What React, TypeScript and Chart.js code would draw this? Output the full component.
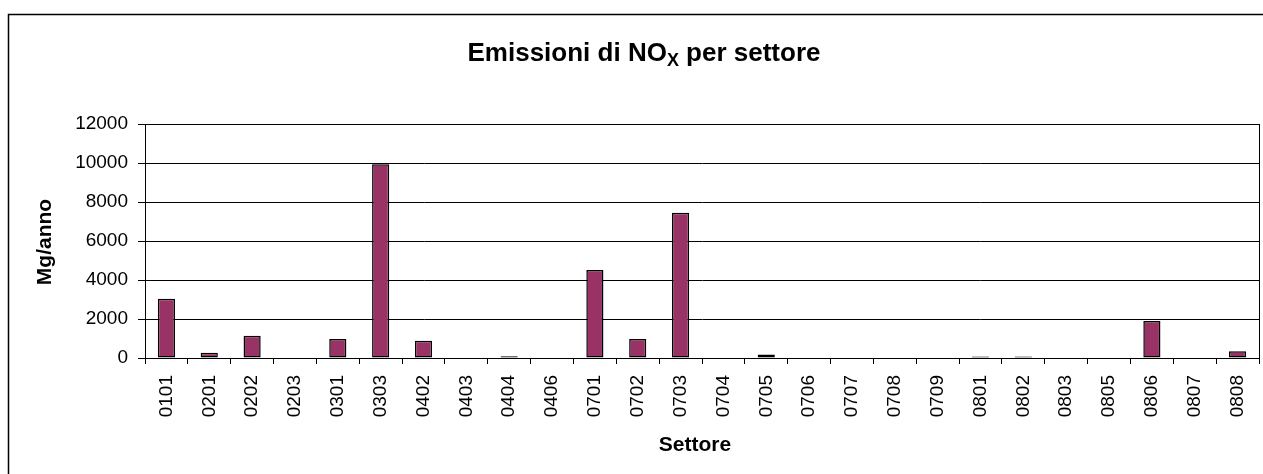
import React, { useEffect, useRef } from "react";
import { Chart, registerables } from "chart.js";

Chart.register(...registerables);

const categories = ["0101","0201","0202","0203","0301","0303","0402","0403","0404","0406","0701","0702","0703","0704","0705","0706","0707","0708","0709","0801","0802","0803","0805","0806","0807","0808"];
const emissions = [3040,270,1140,0,975,9930,890,0,90,0,4510,975,7450,0,180,0,0,0,0,80,80,0,0,1900,0,340];
const yTicks = [0,2000,4000,6000,8000,10000,12000];

const titleMain = "Emissioni di NO";
const titleSub = "X";
const titleRest = " per settore";
const yTitle = "Mg/anno";
const xTitle = "Settore";

const FONT = "'Liberation Sans', Arial, sans-serif";

export default function App() {
  const ref = useRef<HTMLCanvasElement | null>(null);
  useEffect(() => {
    if (!ref.current) return;
    const decor = {
      id: "decor",
      afterDraw(chart: any) {
        const ctx = chart.ctx;
        const a = chart.chartArea;
        ctx.save();
        ctx.strokeStyle = "#000";
        ctx.lineWidth = 1.5;
        ctx.strokeRect(8.5, 14.5, 1300, 500);
        ctx.lineWidth = 1;
        ctx.strokeRect(Math.round(a.left) + 0.5, Math.round(a.top) + 0.5, Math.round(a.right - a.left), Math.round(a.bottom - a.top));
        ctx.fillStyle = "#000";
        ctx.textBaseline = "alphabetic";
        const big = `bold 26px ${FONT}`;
        const small = `bold 18px ${FONT}`;
        ctx.font = big;
        const w1 = ctx.measureText(titleMain).width;
        const w3 = ctx.measureText(titleRest).width;
        ctx.font = small;
        const w2 = ctx.measureText(titleSub).width;
        const total = w1 + w2 + w3;
        let x = 644 - total / 2;
        const base = 61;
        ctx.textAlign = "left";
        ctx.font = big;
        ctx.fillText(titleMain, x, base);
        x += w1;
        ctx.font = small;
        ctx.fillText(titleSub, x, base + 5);
        x += w2;
        ctx.font = big;
        ctx.fillText(titleRest, x, base);
        ctx.font = `bold 21px ${FONT}`;
        ctx.textAlign = "center";
        ctx.textBaseline = "middle";
        ctx.fillText(xTitle, 695, 445);
        ctx.translate(45, 242);
        ctx.rotate(-Math.PI / 2);
        ctx.fillText(yTitle, 0, 0);
        ctx.restore();
      },
    };
    const chart = new Chart(ref.current, {
      type: "bar",
      data: {
        labels: categories,
        datasets: [
          {
            data: emissions,
            backgroundColor: "#993366",
            borderColor: "#000",
            borderWidth: 1.5,
            borderSkipped: false,
            barPercentage: 0.4,
            categoryPercentage: 1,
          },
        ],
      },
      options: {
        animation: false,
        responsive: false,
        maintainAspectRatio: false,
        layout: { padding: { top: 124, right: 4, left: 0, bottom: 0 } },
        plugins: { legend: { display: false }, title: { display: false }, tooltip: { enabled: false } },
        scales: {
          x: {
            offset: true,
            grid: { offset: true, drawOnChartArea: false, drawTicks: true, tickLength: 6, color: "#000" },
            border: { color: "#000" },
            ticks: {
              color: "#000",
              font: { family: FONT, size: 19 },
              minRotation: 90,
              maxRotation: 90,
              autoSkip: false,
              padding: 11,
            },
            afterFit(scale: any) {
              scale.height = 474 - 358;
              scale.paddingLeft = 0;
              scale.paddingRight = 0;
            },
          },
          y: {
            min: 0,
            max: 12000,
            afterBuildTicks(scale: any) {
              scale.ticks = yTicks.map((v) => ({ value: v }));
            },
            grid: { color: "#000", tickLength: 7 },
            border: { color: "#000" },
            ticks: {
              color: "#000",
              font: { family: FONT, size: 19 },
              padding: 10,
              callback: (v: any) => String(v),
            },
            afterFit(scale: any) {
              scale.width = 145;
              scale.paddingTop = 0;
              scale.paddingBottom = 0;
            },
          },
        },
      },
      plugins: [decor],
    });
    return () => chart.destroy();
  }, []);
  return (
    <div style={{ position: "absolute", left: 0, top: 0, width: 1263, height: 474, background: "#fff" }}>
      <canvas ref={ref} width={1263} height={474} style={{ display: "block" }} />
    </div>
  );
}
